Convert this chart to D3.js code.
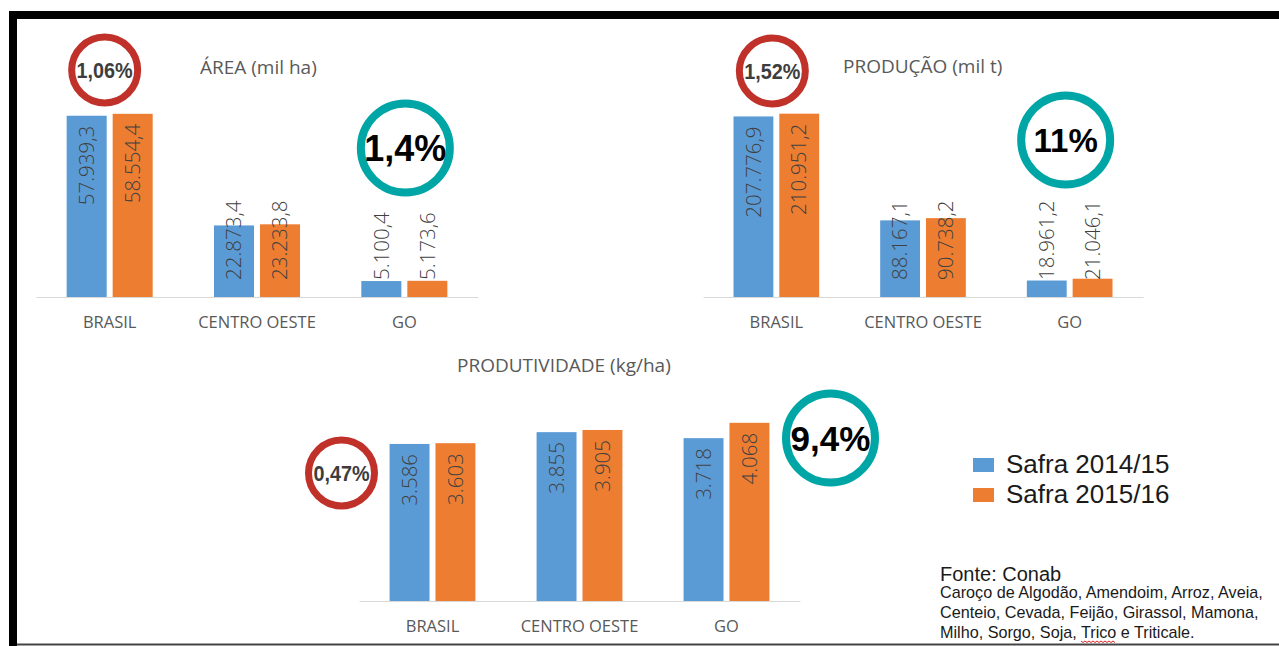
<!DOCTYPE html>
<meta charset="utf-8">
<head>
<title>Safra 2014/15 x 2015/16</title>
<style>
body { margin: 0; background: #fff; }
svg text { font-family: "Open Sans", "Segoe UI", sans-serif; }
.cat text { fill: #595959; font-size: 16.5px; }
.ttl { fill: #595959; font-size: 19px; }
.val { fill: #404040; font-size: 20.5px; font-weight: 300; }
.pct { font-family: "Liberation Sans", Arial, sans-serif !important; font-weight: bold; }
.leg { font-family: "Liberation Sans", Arial, sans-serif !important; fill: #1a1a1a; }
</style>
</head>
<body>
<div id="chart"></div>
<script src="https://d3js.org/d3.v7.min.js"></script>
<script>
var width = 1279,
    height = 646;

// data
var categories = ["BRASIL", "CENTRO OESTE", "GO"];
var seriesNames = ["Safra 2014/15", "Safra 2015/16"];
var area1415 = [57939.3, 22873.4, 5100.4],
    area1516 = [58554.4, 23233.8, 5173.6];
var prod1415 = [207776.9, 88167.1, 18961.2],
    prod1516 = [210951.2, 90738.2, 21046.1];
var produt1415 = [3586, 3855, 3718],
    produt1516 = [3603, 3905, 4068];
var areaPct = ["1,06%", "1,4%"],
    prodPct = ["1,52%", "11%"],
    produtPct = ["0,47%", "9,4%"];
var fonteLines = ["Caroço de Algodão, Amendoim, Arroz, Aveia,",
                  "Centeio, Cevada, Feijão, Girassol, Mamona,",
                  "Milho, Sorgo, Soja, Trico e Triticale."];

var colors = ["#5B9BD5", "#ED7D31"];

var br = d3.formatLocale({decimal: ",", thousands: ".", grouping: [3], currency: ["R$", ""]});

var svg = d3.select("#chart").append("svg")
    .attr("width", width)
    .attr("height", height);

svg.append("rect").attr("width", width).attr("height", height).attr("fill", "#fff");

// black frame of the slide
svg.append("rect").attr("x", 9).attr("y", 11).attr("width", width - 9).attr("height", 8).attr("fill", "#000");
svg.append("rect").attr("x", 9).attr("y", 11).attr("width", 8).attr("height", height - 11).attr("fill", "#000");
svg.append("line").attr("x1", 17).attr("x2", width).attr("y1", 644.5).attr("y2", 644.5)
    .attr("stroke", "#444").attr("stroke-width", 2);

function drawChart(c) {
  var g = svg.append("g");

  var x0 = d3.scaleBand().domain(categories).range(c.range)
      .paddingInner(0.416).paddingOuter(0.208);
  var x1 = d3.scaleBand().domain(seriesNames).range([0, x0.bandwidth()]).paddingInner(0.13);
  var y = d3.scaleLinear().domain([0, c.max]).range([c.base, c.base - 219]);

  var rows = categories.map(function(cat, i) {
    return {cat: cat, vals: [c.a[i], c.b[i]]};
  });

  var grp = g.selectAll(".grp").data(rows).enter().append("g")
      .attr("transform", function(d) { return "translate(" + x0(d.cat) + ",0)"; });

  grp.selectAll("rect").data(function(d) { return d.vals; }).enter().append("rect")
      .attr("x", function(d, i) { return x1(seriesNames[i]); })
      .attr("y", function(d) { return y(d); })
      .attr("width", x1.bandwidth())
      .attr("height", function(d) { return c.base - y(d); })
      .attr("fill", function(d, i) { return colors[i]; });

  // value labels, rotated, "inside end" but never lower than the axis
  grp.selectAll(".val").data(function(d) { return d.vals; }).enter().append("text")
      .attr("class", "val")
      .attr("dy", "0.35em")
      .text(function(d) { return br.format(c.fmt)(d); })
      .each(function(d, i) {
        var t = d3.select(this);
        var len = this.getComputedTextLength();
        var cx = x1(seriesNames[i]) + x1.bandwidth() / 2;
        var top = y(d) + 10;
        if (top + len > c.base - 17) {
          t.attr("text-anchor", "start")
           .attr("transform", "translate(" + cx + "," + (c.base - 17) + ")rotate(-90)");
        } else {
          t.attr("text-anchor", "end")
           .attr("transform", "translate(" + cx + "," + top + ")rotate(-90)");
        }
      });

  var ax = g.append("g").attr("class", "cat")
      .attr("transform", "translate(0," + c.base + ")")
      .call(d3.axisBottom(x0).tickSize(0).tickPadding(19));
  ax.select(".domain").attr("stroke", "#D9D9D9");
  ax.selectAll("text").attr("font-family", null).attr("font-size", null);

  g.append("text").attr("class", "ttl")
      .attr("x", c.titleX).attr("y", c.titleY).attr("dy", "0.35em")
      .text(c.title);

  // highlight circles
  var mid = function(cat) { return x0(cat) + x0.bandwidth() / 2; };
  var red = g.append("g").attr("transform", "translate(" + (mid("BRASIL") + c.red.dx) + "," + c.red.cy + ")");
  red.append("circle").attr("r", 33).attr("fill", "none").attr("stroke", "#C0312A").attr("stroke-width", 7);
  red.append("text").attr("class", "pct").attr("text-anchor", "middle").attr("dy", "0.36em")
      .attr("fill", "#3d3d3d").attr("font-size", 22)
      .attr("transform", "scale(0.9,1)")
      .text(c.pct[0]);

  var teal = g.append("g").attr("transform", "translate(" + (mid("GO") + c.teal.dx) + "," + c.teal.cy + ")");
  teal.append("circle").attr("r", 44.5).attr("fill", "none").attr("stroke", "#00A6A6").attr("stroke-width", 8);
  teal.append("text").attr("class", "pct").attr("text-anchor", "middle").attr("dy", "0.36em")
      .attr("fill", "#000").attr("font-size", c.teal.fs)
      .text(c.pct[1]);
}

drawChart({title: "ÁREA (mil ha)", a: area1415, b: area1516, fmt: ",.1f", max: 70000,
  range: [36, 478], base: 297, titleX: 200, titleY: 67, pct: areaPct,
  red: {dx: -5, cy: 70}, teal: {dx: 1, cy: 148, fs: 36}});

drawChart({title: "PRODUÇÃO (mil t)", a: prod1415, b: prod1516, fmt: ",.1f", max: 252000,
  range: [703, 1143], base: 297, titleX: 843, titleY: 66, pct: prodPct,
  red: {dx: -4, cy: 71}, teal: {dx: -4, cy: 140, fs: 33}});

drawChart({title: "PRODUTIVIDADE (kg/ha)", a: produt1415, b: produt1516, fmt: ",.0f", max: 5000,
  range: [359, 800], base: 601, titleX: 457, titleY: 365, pct: produtPct,
  red: {dx: -91, cy: 473}, teal: {dx: 104, cy: 438, fs: 35}});

// legend
var leg = svg.append("g").attr("transform", "translate(973,458)");
seriesNames.forEach(function(s, i) {
  leg.append("rect").attr("x", 0).attr("y", i * 30).attr("width", 21).attr("height", 14).attr("fill", colors[i]);
  leg.append("text").attr("class", "leg").attr("x", 33).attr("y", i * 30 + 15)
      .attr("font-size", 26).text(s);
});

// source note
svg.append("text").attr("class", "leg").attr("x", 940).attr("y", 581)
    .attr("font-size", 20).attr("fill", "#111").text("Fonte: Conab");
fonteLines.forEach(function(line, i) {
  var t = svg.append("text").attr("class", "leg").attr("x", 940).attr("y", 598 + i * 20)
      .attr("font-size", 16.2).attr("fill", "#111").text(line);
  var k = line.indexOf("Trico");
  if (k >= 0) {
    var node = t.node();
    var xs = 940 + node.getSubStringLength(0, k);
    var w = node.getSubStringLength(k, 5);
    var pts = d3.range(0, Math.floor(w / 2) + 1).map(function(j) {
      return [xs + j * 2, 598 + i * 20 + 3 + (j % 2 ? 1.5 : 0)];
    });
    svg.append("path").attr("d", d3.line()(pts)).attr("fill", "none")
        .attr("stroke", "#E02020").attr("stroke-width", 1);
  }
});
</script>
</body>
